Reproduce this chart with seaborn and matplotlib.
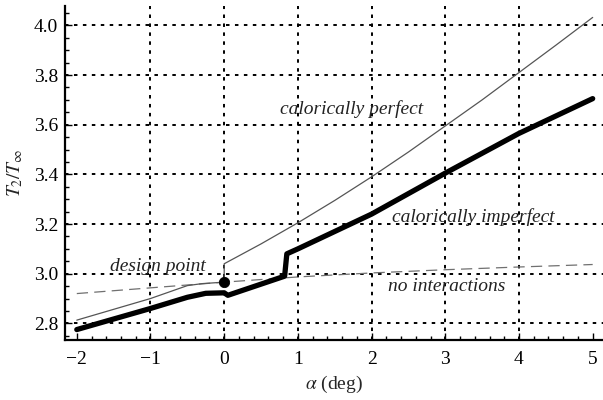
import matplotlib
matplotlib.use("Agg")
import matplotlib.pyplot as plt
import pandas as pd
import seaborn as sns
from matplotlib.ticker import MultipleLocator

# Calorically imperfect solution (thick line)
alpha_imperfect = [-2.0, -1.0, -0.5, -0.25, 0.0, 0.05, 0.5, 0.82, 0.85, 1.0, 1.5, 2.0, 3.0, 4.0, 5.0]
temp_imperfect = [2.775, 2.86, 2.905, 2.921, 2.923, 2.913, 2.958, 2.99, 3.08, 3.10, 3.17, 3.24, 3.405, 3.565, 3.705]

# Calorically perfect solution (thin line)
alpha_perfect = [-2.0, -1.0, -0.5, -0.3, 0.0, 0.0, 0.5, 1.0, 1.5, 2.0, 2.5, 3.0, 3.5, 4.0, 4.5, 5.0]
temp_perfect = [2.813, 2.90, 2.952, 2.96, 2.966, 3.04, 3.12, 3.205, 3.295, 3.39, 3.49, 3.595, 3.70, 3.81, 3.92, 4.032]

# Solution without shock interactions (dashed line)
alpha_noint = [-2.0, -1.0, 0.0, 1.0, 2.0, 3.0, 4.0, 5.0]
temp_noint = [2.92, 2.943, 2.966, 2.987, 3.003, 3.016, 3.027, 3.037]

# Design point
design_alpha = [0.0]
design_temp = [2.966]

grid_x = [-1, 0, 1, 2, 3, 4]
grid_y = [2.8, 3.0, 3.2, 3.4, 3.6, 3.8, 4.0]

sns.set_style("ticks")
plt.rcParams["font.family"] = ["Liberation Serif", "DejaVu Serif"]
plt.rcParams["mathtext.fontset"] = "stix"

fig = plt.figure(figsize=(6.03, 4.0), dpi=100)
ax = fig.add_axes([65 / 603, 60 / 400, 538 / 603, 334 / 400])

grid_style = dict(color="black", linestyle=(0, (1.8, 2.8)), linewidth=1.4, zorder=0)
for gx in grid_x:
    ax.axvline(gx, **grid_style)
for gy in grid_y:
    ax.axhline(gy, **grid_style)

df_noint = pd.DataFrame({"alpha": alpha_noint, "T": temp_noint})
df_perf = pd.DataFrame({"alpha": alpha_perfect, "T": temp_perfect})
df_imp = pd.DataFrame({"alpha": alpha_imperfect, "T": temp_imperfect})
df_dp = pd.DataFrame({"alpha": design_alpha, "T": design_temp})

sns.lineplot(data=df_noint, x="alpha", y="T", ax=ax, color="#707070", linewidth=0.9,
             estimator=None, sort=False, zorder=2)
ax.lines[-1].set_dashes((9, 5))
sns.lineplot(data=df_perf, x="alpha", y="T", ax=ax, color="#555555", linewidth=0.9,
             estimator=None, sort=False, zorder=3)
sns.lineplot(data=df_imp, x="alpha", y="T", ax=ax, color="black", linewidth=3.8,
             estimator=None, sort=False, zorder=4)
sns.scatterplot(data=df_dp, x="alpha", y="T", ax=ax, color="black", s=55,
                edgecolor="black", zorder=5)

ax.set_xlim(-2.16, 5.14)
ax.set_ylim(2.733, 4.078)

ax.xaxis.set_major_locator(MultipleLocator(1))
ax.xaxis.set_minor_locator(MultipleLocator(0.2))
ax.yaxis.set_major_locator(MultipleLocator(0.2))
ax.yaxis.set_minor_locator(MultipleLocator(0.05))
ax.yaxis.set_major_formatter(matplotlib.ticker.FormatStrFormatter("%.1f"))

ax.tick_params(which="both", direction="in", colors="black", labelsize=14,
               top=False, right=False)
ax.tick_params(which="major", length=5, width=1.0)
ax.tick_params(which="minor", length=3, width=1.0)
ax.tick_params(axis="x", pad=8)
ax.tick_params(axis="y", pad=5)

for side in ("top", "right"):
    ax.spines[side].set_visible(False)
for side in ("left", "bottom"):
    ax.spines[side].set_linewidth(1.6)
    ax.spines[side].set_color("black")

ax.set_xlabel(r"$\alpha$ (deg)", fontsize=14, labelpad=4)
ax.set_ylabel(r"$T_2/T_\infty$", fontsize=14, labelpad=6)

text_kw = dict(fontsize=14, style="italic", color="#222222", ha="center", va="baseline", zorder=6)
ax.text(1.73, 3.642, "calorically perfect", **text_kw)
ax.text(3.38, 3.21, "calorically imperfect", **text_kw)
ax.text(3.02, 2.93, "no interactions", **text_kw)
ax.text(-0.9, 3.01, "design point", **text_kw)

fig.savefig("out.png", dpi=100)
